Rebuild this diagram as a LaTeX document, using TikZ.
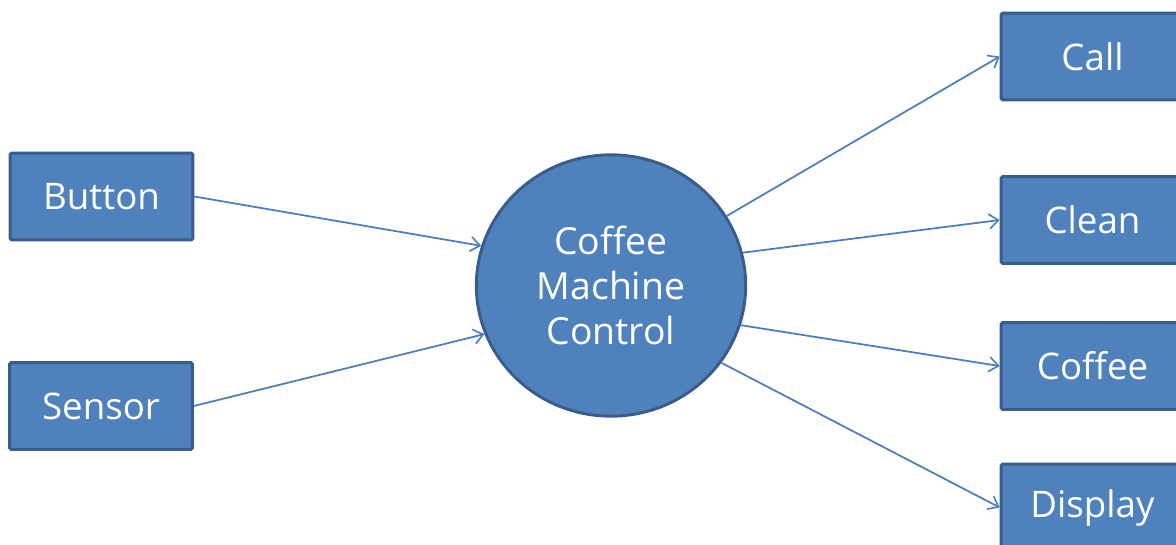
\documentclass[tikz,border=0pt]{standalone}
\usepackage{fontspec}
\setmainfont{Open Sans}
\usetikzlibrary{shapes.geometric,arrows.meta}
\definecolor{boxfill}{HTML}{4F81BD}
\definecolor{boxline}{HTML}{385D8A}
\definecolor{arrowcol}{HTML}{4A7EBB}
\tikzset{
  blockbox/.style={draw=boxline, fill=boxfill, line width=2.2pt, rounded corners=1pt,
    minimum width=137pt, minimum height=65pt, text=white, font=\fontsize{27.5}{33}\selectfont, inner sep=0pt},
  hub/.style={ellipse, draw=boxline, fill=boxfill, line width=2.2pt, minimum width=202pt, minimum height=196pt,
    text=white, align=center, font=\fontsize{28}{34}\selectfont, inner sep=0pt},
  flow/.style={draw=arrowcol, line width=1.3pt, -{Straight Barb[length=7pt,width=11pt,line width=1.2pt]}}
}
\begin{document}
\begin{tikzpicture}[x=0.75pt,y=-0.75pt]
\useasboundingbox (0,0) rectangle (1176,544);
\clip (0,0) rectangle (1176,544);
\node[blockbox] (button) at (101.5,196.5) {Button};
\node[blockbox] (sensor) at (101,406) {Sensor};
\node[hub] (cmc) at (611,285.5) {Coffee\\Machine\\Control};
\node[blockbox] (call) at (1092.5,56.5) {Call};
\node[blockbox] (clean) at (1092.5,220) {Clean};
\node[blockbox] (coffee) at (1092.5,366) {Coffee};
\node[blockbox] (display) at (1092.5,507.5) {Display};
\draw[flow] (button.east) -- (cmc.163);
\draw[flow] (sensor.east) -- (cmc.201);
\draw[flow] (cmc.31) -- (call.west);
\draw[flow] (cmc.14) -- (clean.west);
\draw[flow] (cmc.-17) -- (coffee.west);
\draw[flow] (cmc.-35) -- (display.west);
\end{tikzpicture}
\end{document}
